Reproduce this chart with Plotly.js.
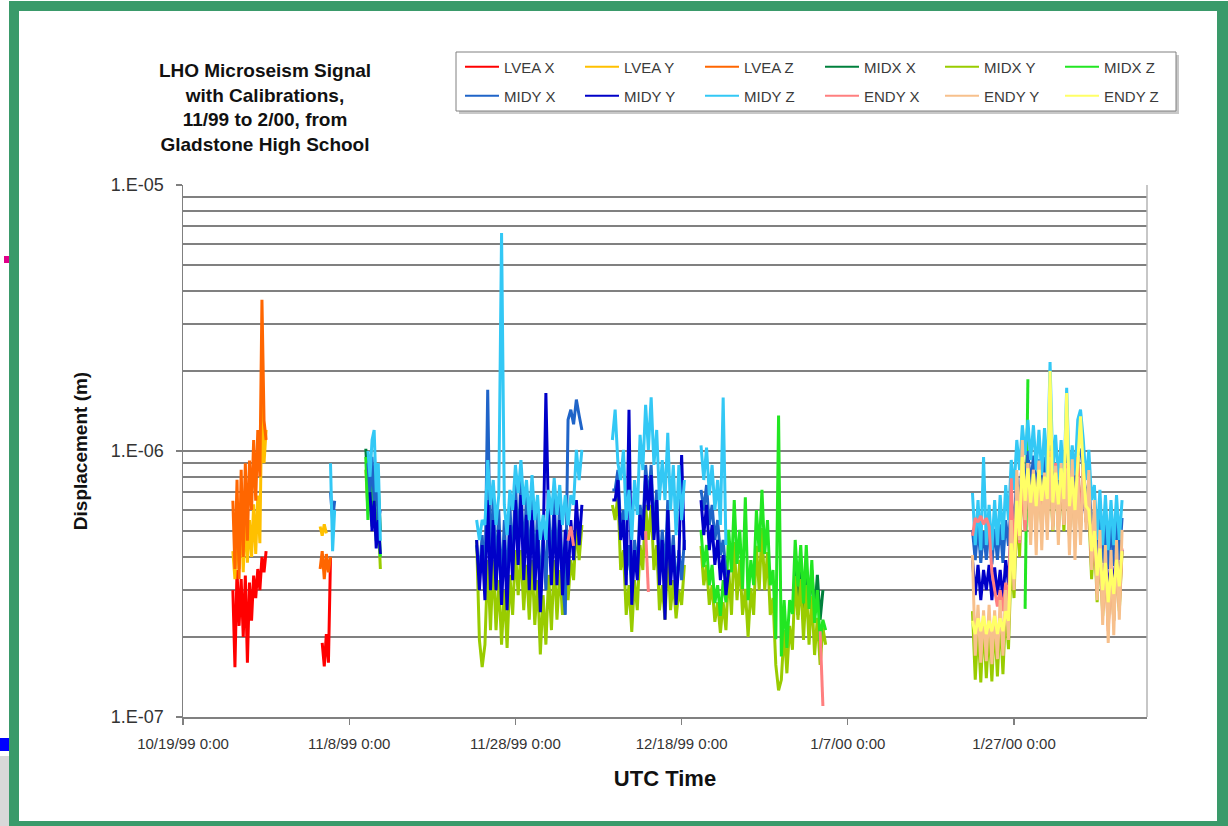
<!DOCTYPE html>
<html><head><meta charset="utf-8">
<script src="https://cdn.plot.ly/plotly-3.0.1.min.js"></script>
<style>
html,body{margin:0;padding:0;background:#fff;overflow:hidden;width:1228px;height:826px;}
#chart{position:absolute;left:0;top:0;width:1228px;height:826px;}
#frame{position:absolute;left:9px;top:1px;width:1219px;height:830px;box-sizing:border-box;border:10px solid #3a9a6a;border-right-width:11px;pointer-events:none;}
#m1{position:absolute;left:4px;top:256px;width:5px;height:7px;background:#e0008a;}
#m2{position:absolute;left:0;top:738px;width:9px;height:13px;background:#0000ff;}
#m3{position:absolute;left:0;top:756px;width:9px;height:70px;background:#d8d8d8;}
</style></head><body>
<div id="chart"></div><div id="m1"></div><div id="m2"></div><div id="m3"></div><div id="frame"></div>
<script>
// ---------------- DATA ----------------
const SERIES_NAMES = ['LVEA X','LVEA Y','LVEA Z','MIDX X','MIDX Y','MIDX Z','MIDY X','MIDY Y','MIDY Z','ENDY X','ENDY Y','ENDY Z'];
const X_TICK_DATES = ['1999-10-19','1999-11-08','1999-11-28','1999-12-18','2000-01-07','2000-01-27'];
const X_TICK_TEXT = ['10/19/99 0:00','11/8/99 0:00','11/28/99 0:00','12/18/99 0:00','1/7/00 0:00','1/27/00 0:00'];
const Y_TICK_VALS = [1e-7,1e-6,1e-5];
const Y_TICK_TEXT = ['1.E-07','1.E-06','1.E-05'];
const X_RANGE = ['1999-10-19 00:00','2000-02-12 00:00'];
const UNIT = 1e-7; // all values below are displacement in units of 1e-7 m

// recording runs: start time (UTC) and sample step in hours
const S1 = ['1999-10-25 00:00', 6];
const S2 = ['1999-11-04 12:00', 6];
const S3 = ['1999-11-10 00:00', 6];
const S4 = ['1999-11-23 08:00', 8];
const S5A = ['1999-12-09 16:00', 8];
const S5B = ['1999-12-20 08:00', 8];
const S6 = ['2000-01-22 00:00', 8];
const S4E = ['1999-12-04 08:00', 8];
const S5AE = ['1999-12-13 16:00', 8];
const S5BE = ['2000-01-03 16:00', 8];
const S5BX = ['1999-12-31 16:00', 8];
const S6Z = ['2000-01-28 08:00', 8];

const lveaX_1 = [3.0,1.54,3.57,2.2,3.3,2.0,3.4,1.6,3.2,2.3,3.4,2.8,3.6,3.0,4.0,3.5,4.2];
const lveaY_1 = [4.2,3.3,5.3,3.6,5.8,3.5,6.0,3.8,5.5,4.0,6.3,4.1,6.8,4.5,17.0,9.0,12.0];
const lveaZ_1 = [6.5,3.6,7.8,3.3,8.5,4.0,9.0,4.6,9.2,6.0,11.0,6.5,12.0,8.0,37.0,13.0,11.0];
const lveaX_2 = [null,1.9,1.55,2.05,1.6,4.0];
const lveaY_2 = [5.2,4.8,5.3,4.9];
const lveaZ_2 = [3.6,4.2,3.3,4.1,3.5,4.0];
const midyX_2 = [null,null,null,null,null,7.0,5.5,6.5];
const midyZ_2 = [null,null,null,null,null,9.0,4.2,6.0];

const midxX_3 = [10.2,7.2,9.6,6.8,8.6,6.2,7.5,5.0];
const midxY_3 = [8.5,6.0,8.0,5.5,7.0,4.8,5.5,3.6];
const midxZ_3 = [9.5,5.5,9.0,5.2,7.5,4.6,6.0,4.0];
const midyX_3 = [null,9.0,7.0,9.5,6.5,8.0,5.5,6.0];
const midyY_3 = [null,null,7.0,5.0,6.5,4.3,5.5,4.1];
const midyZ_3 = [null,10.0,8.0,11.0,12.0,7.0,9.0,4.6];

const midyZ_4 = [5.5,4.63,5.5,5.27,9.25,6.27,7.78,5.27,6.83,66,6.27,4.83,7.14,6.0,8.86,6.95,9.25,6.27,7.78,5.5,8.12,5.5,6.83,4.63,5.75,4.63,7.14,5.75,7.9,5.75,7.45,5.27,6.83,5.27,6.83,6.27,10.1,7.78,10.1];
const midyX_4 = [4.43,3.42,4.83,3.13,17,3.42,6.83,3.42,6.0,3.0,5.5,2.87,6.27,3.73,7.78,4.24,8.12,3.73,6.83,3.42,7.14,3.42,6.0,2.8,5.05,3.0,6.27,3.57,6.83,3.57,6.54,3.27,2.42,13.1,14.3,12.6,15.6,13.6,12.0];
const midyY_4 = [4.63,3.0,4.43,2.75,6.54,3.0,5.5,3.0,5.05,2.64,4.63,2.52,5.27,3.27,6.54,3.73,6.83,3.27,5.75,3.0,6.0,3.0,5.05,2.48,4.24,16.5,5.27,3.13,5.75,3.13,5.5,2.87,5.05,3.13,5.5,3.89,6.54,4.43,6.27];
const midxY_4 = [4.63,1.95,1.54,1.87,3.89,2.12,3.89,2.12,3.27,1.87,3.0,1.82,3.42,2.42,4.24,2.87,4.24,2.52,3.73,2.32,3.89,2.22,3.27,1.72,2.87,1.87,3.42,2.12,3.89,2.32,3.57,2.42,3.57,2.75,3.89,3.27,5.27,3.89,5.27];
const endyX_4 = [4.6,5.2,4.4];

const midyZ_5a = [11.0,14.3,9.0,7.78,10.1,5.5,7.14,4.63,7.78,5.75,11.5,8.48,14.9,10.1,15.9,8.86,12.0,6.54,9.25,6.54,11.7,6.0,8.86,4.83,8.86,5.5,7.78];
const midyX_5a = [7.14,7.14,8.48,5.05,6.0,3.42,4.43,2.93,4.63,3.57,6.27,5.05,8.86,6.54,8.86,5.05,7.14,3.42,5.05,3.42,6.54,3.42,4.83,2.87,4.24,3.27,4.63];
const midyY_5a = [6.54,6.54,7.78,4.63,5.5,3.13,14.3,2.64,4.24,3.27,5.75,4.63,8.12,6.0,8.12,4.63,6.54,3.13,4.63,2.32,6.0,3.13,4.43,2.64,3.89,9.66,4.24];
const midxY_5a = [6.27,5.5,6.83,3.57,4.24,2.42,3.13,2.09,3.27,2.52,4.43,3.57,6.27,4.63,6.27,3.57,4.43,2.52,3.13,2.32,4.06,2.52,3.27,2.35,3.0,2.64,3.73];
const endyX_5a = [5.0,2.95];

const midyZ_5b = [10.5,7.78,10.3,6.83,8.86,6.0,7.78,5.27,15.9,4.43];
const midyX_5b = [7.14,6.0,7.45,5.27,6.27,4.63,5.5,4.06,4.63,3.42];
const midyY_5b = [6.54,4.83,6.27,4.24,5.27,3.73,4.63,3.27,4.06,2.87,3.57];
const midxZ_5b = [5.05,3.66,4.43,3.13,3.73,2.68,3.13,2.4,3.27,2.7,5.05,3.5,6.54,3.76,5.05,3.03,6.7,2.75,3.89,3.13,6.0,4.17,7.14,4.1,5.5,3.13,3.57,1.96,13.6,1.69,2.75,1.82,2.75,2.44,4.63,3.1,4.43,2.67,4.43,2.55,3.89,2.26,3.0,1.93,2.32,2.12];
const midxY_5b = [4.4,3.13,3.73,2.64,3.13,2.28,2.7,2.07,2.7,2.12,3.6,2.42,4.55,2.75,3.89,2.42,3.03,2.0,3.05,2.42,4.4,3.0,5.13,3.0,4.17,2.42,2.8,1.57,1.26,1.38,2.12,1.46,2.2,1.79,3.39,2.32,3.3,1.95,3.13,1.87,2.85,1.71,2.36,1.57,2.16,1.87];
const midxX_5b = [3.89,2.42,3.6,2.52,3.73,2.6,3.57,2.42,3.42,2.32,3.0];
const endyX_5b = [2.1,1.1];

const midyZ_6 = [6.95,4.43,6.54,4.24,9.5,4.43,6.27,4.24,6.54,4.43,6.83,4.63,7.45,5.5,9.25,7.14,11.0,8.48,12.5,9.66,13.1,9.25,12.5,8.48,12.0,8.12,12.2,7.78,21.6,8.48,11.5,7.78,11.0,7.45,17.3,7.78,10.5,8.12,13.1,14.3,11.0,7.78,10.1,6.54,7.45,4.63,7.14,4.43,6.83,4.24,6.54,4.43,6.83,4.63,6.54];
const midyX_6 = [5.05,3.89,5.3,3.8,5.0,3.9,5.2,3.75,5.1,3.9,5.3,3.8,5.5,4.4,6.5,5.3,8.0,6.3,9.5,7.2,10.0,7.3,9.6,7.0,9.3,6.8,9.5,6.9,10.5,7.1,9.0,6.7,9.2,6.8,9.8,7.0,8.8,6.9,9.6,10.2,8.5,6.6,7.6,5.3,6.0,4.0,5.6,3.8,5.3,3.6,5.4,3.7,5.5,3.9,5.6];
const midyY_6 = [3.89,2.87,3.73,2.75,3.57,3.0,3.73,2.75,3.65,2.87,3.57,2.75,3.89,3.13,5.05,3.89,6.54,5.05,7.78,6.0,8.48,6.27,7.78,6.0,7.45,5.9,7.78,6.27,8.48,6.54,8.12,6.0,7.78,6.27,8.48,6.54,7.78,6.0,7.45,6.27,7.14,5.5,6.0,4.43,4.63,3.42,4.06,3.13,3.89,3.0,3.89,3.13,4.06,3.27,4.24];
const midxY_6 = [2.5,1.38,2.2,1.35,2.3,1.4,2.2,1.36,2.3,1.42,2.4,1.45,2.6,1.8,4.0,2.8,6.0,4.0,8.5,5.0,9.0,5.0,8.5,5.0,9.0,5.0,8.0,5.5,9.0,5.0,8.5,5.0,8.5,5.0,9.0,4.8,8.5,4.6,9.5,5.0,8.8,5.4,6.0,3.3,5.0,2.7,4.4,2.4,3.8,2.2,3.6,2.3,3.9,2.5,4.2];
const midxZ_6 = [2.55,18.6];
const endyX_6 = [4.8,5.6,5.4,5.7,5.3,5.6,5.2,3.5,3.0,2.6,3.0,2.5,3.2,2.4,7.9,3.5,6.0,4.5,8.0,5.0,9.0,5.0,8.5,5.2,9.0,5.0,8.0,5.5,10.0,5.2,9.0,5.0,8.5,5.3,9.0,4.8,8.5,4.6,9.5,5.0,8.8,5.4,6.5,3.6,5.2,2.9,4.4,2.5,3.8,2.1,3.6,2.3,3.9,2.6,4.3];
const endyY_6 = [4.06,1.7,2.64,1.6,2.52,1.62,2.64,1.58,2.52,1.65,2.75,1.7,3.0,1.95,5.5,3.0,8.48,4.63,11.0,5.5,9.0,4.43,8.5,4.06,9.2,4.24,8.3,4.63,9.5,5.05,8.8,4.43,9.0,5.27,8.6,4.06,9.3,3.89,8.0,4.43,9.0,5.05,8.48,3.57,6.54,2.75,5.05,2.22,4.43,1.9,4.24,2.03,4.63,2.32,5.05];
const endyZ_6 = [2.3,2.05,2.35,2.1,2.4,2.05,2.3,2.1,2.4,2.05,2.35,2.1,2.5,2.3,4.5,3.3,6.5,4.8,9.5,6.5,8.6,6.4,8.2,6.2,8.5,6.5,8.0,6.6,20.0,6.4,8.3,6.3,8.6,6.6,16.5,6.2,8.0,6.0,9.0,13.5,8.5,6.2,6.0,4.2,5.0,3.4,4.3,3.0,3.8,2.7,3.6,2.9,3.9,3.1,4.2];

const PIECES = [
  [[S1,lveaX_1],[S2,lveaX_2]],
  [[S1,lveaY_1],[S2,lveaY_2]],
  [[S1,lveaZ_1],[S2,lveaZ_2]],
  [[S3,midxX_3],[S5BX,midxX_5b]],
  [[S3,midxY_3],[S4,midxY_4],[S5A,midxY_5a],[S5B,midxY_5b],[S6,midxY_6]],
  [[S3,midxZ_3],[S5B,midxZ_5b],[S6Z,midxZ_6]],
  [[S2,midyX_2],[S3,midyX_3],[S4,midyX_4],[S5A,midyX_5a],[S5B,midyX_5b],[S6,midyX_6]],
  [[S3,midyY_3],[S4,midyY_4],[S5A,midyY_5a],[S5B,midyY_5b],[S6,midyY_6]],
  [[S2,midyZ_2],[S3,midyZ_3],[S4,midyZ_4],[S5A,midyZ_5a],[S5B,midyZ_5b],[S6,midyZ_6]],
  [[S4E,endyX_4],[S5AE,endyX_5a],[S5BE,endyX_5b],[S6,endyX_6]],
  [[S6,endyY_6]],
  [[S6,endyZ_6]]
];

// ---------------- STYLE ----------------
const COLORS = ['#ff0000','#ffc000','#ff6600','#00803c','#99cc00','#22e622','#1f64c8','#0000c8','#33c8f5','#ff7f7f','#f7c08c','#ffff66'];

function timesFrom(start, stepH, n) {
  const t0 = Date.parse(start.replace(' ', 'T') + ':00Z');
  const out = [];
  for (let i = 0; i < n; i++) out.push(new Date(t0 + i * stepH * 3600000).toISOString().slice(0,16).replace('T',' '));
  return out;
}

const dataTraces = SERIES_NAMES.map((name, k) => {
  const x = [], y = [];
  PIECES[k].forEach(([seg, vals]) => {
    const t = timesFrom(seg[0], seg[1], vals.length);
    vals.forEach((v, i) => { x.push(t[i]); y.push(v === null ? null : v * UNIT); });
    x.push(null); y.push(null);
  });
  return {
    type: 'scatter', mode: 'lines', name, x, y, connectgaps: false,
    line: {color: COLORS[k], width: 3, simplify: false},
    legendgroup: name, showlegend: false,
    hoverinfo: 'x+y+name'
  };
});
// legend keys drawn with a thin line, linked to the series above
const keyTraces = SERIES_NAMES.map((name, k) => ({
  type: 'scatter', mode: 'lines', name, x: [null], y: [null],
  line: {color: COLORS[k], width: 1.8},
  legendgroup: name, showlegend: true,
  legend: k < 6 ? 'legend' : 'legend2', hoverinfo: 'skip'
}));

const W = 1228, H = 826, PL = 183, PR = 1147, PT = 185, PB = 717;
const px = v => (v - PL) / (PR - PL);
const py = v => (PB - v) / (PB - PT);

const minorVals = [];
for (let e = -7; e < -5; e++) for (let m = 2; m <= 9; m++) minorVals.push(m * Math.pow(10, e));

const FONT = 'Arial, "Liberation Sans", sans-serif';
const legendBase = {
  orientation: 'h', xanchor: 'left', yanchor: 'middle', x: px(460),
  entrywidth: 71, itemwidth: 34, bgcolor: 'rgba(0,0,0,0)', borderwidth: 0,
  font: {family: FONT, size: 15, color: '#3a3a3a'}
};

const layout = {
  width: W, height: H,
  margin: {l: PL, r: W - PR, t: PT, b: H - PB, pad: 0},
  paper_bgcolor: '#ffffff', plot_bgcolor: '#ffffff',
  font: {family: FONT, color: '#222'},
  title: {
    text: 'LHO Microseism Signal<br>with Calibrations,<br>11/99 to 2/00, from<br>Gladstone High School',
    font: {family: FONT, size: 19, weight: 700, color: '#111'},
    xref: 'container', yref: 'container', x: 265 / W, xanchor: 'center', y: 1 - 77 / H, yanchor: 'top'
  },
  showlegend: true,
  legend: Object.assign({}, legendBase, {y: py(67)}),
  legend2: Object.assign({}, legendBase, {y: py(96)}),
  xaxis: {
    type: 'date', range: X_RANGE, tickmode: 'array', tickvals: X_TICK_DATES, ticktext: X_TICK_TEXT,
    ticks: 'outside', ticklen: 6, tickcolor: '#808080', tickwidth: 1.3, ticklabelstandoff: 6,
    showline: true, linecolor: '#808080', linewidth: 1.5, showgrid: false, zeroline: false,
    tickfont: {family: FONT, size: 15, color: '#333'},
    title: {text: 'UTC Time', font: {family: FONT, size: 22, weight: 700, color: '#111'}, standoff: 20}
  },
  yaxis: {
    type: 'log', range: [-7, -5], tickmode: 'array', tickvals: Y_TICK_VALS, ticktext: Y_TICK_TEXT,
    ticks: 'outside', ticklen: 6, tickcolor: '#808080', tickwidth: 1.3, ticklabelstandoff: 8,
    showline: true, linecolor: '#808080', linewidth: 1.5,
    showgrid: true, gridcolor: '#808080', gridwidth: 1.6, zeroline: false,
    minor: {tickmode: 'array', tickvals: minorVals, showgrid: true, gridcolor: '#808080', gridwidth: 1.6, ticks: ''},
    tickfont: {family: FONT, size: 18, color: '#333'},
    title: {text: 'Displacement (m)', font: {family: FONT, size: 19, weight: 700, color: '#111'}, standoff: 18}
  },
  shapes: [
    {type: 'rect', xref: 'paper', yref: 'paper', x0: px(459), x1: px(1179), y0: py(114), y1: py(55), fillcolor: '#c8c8c8', line: {width: 0}, layer: 'below'},
    {type: 'rect', xref: 'paper', yref: 'paper', x0: px(456), x1: px(1176), y0: py(111), y1: py(52), fillcolor: '#ffffff', line: {color: '#808080', width: 1}, layer: 'below'},
    {type: 'line', xref: 'paper', yref: 'paper', x0: 1, x1: 1, y0: 0, y1: 1, line: {color: '#b4b4b4', width: 1.5}}
  ]
};

Plotly.newPlot('chart', dataTraces.concat(keyTraces), layout, {staticPlot: true, displayModeBar: false});
</script>
</body></html>
